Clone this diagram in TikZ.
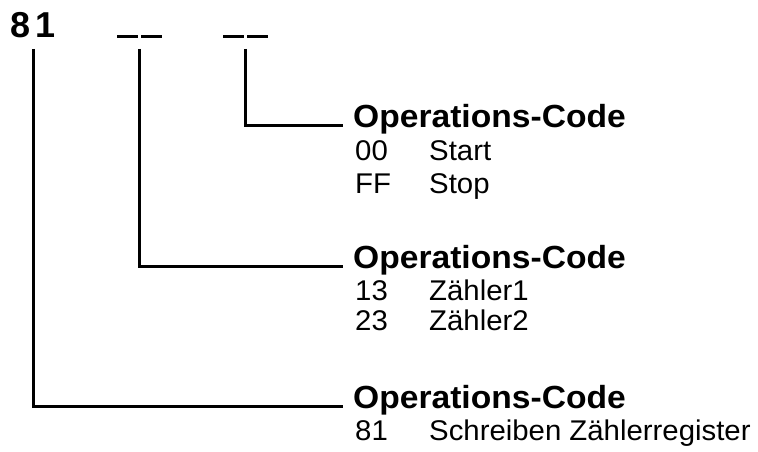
\documentclass[tikz,border=0pt]{standalone}
\usepackage{fontspec}
\usetikzlibrary{calc}
\setmainfont{Liberation Sans}
\newfontfamily\hdfont[FakeStretch=1.05]{Liberation Sans}
\newfontfamily\enfont[FakeStretch=1.03]{Liberation Sans}
\begin{document}
\begin{tikzpicture}[x=1pt,y=-1pt,
  topnum/.style={font=\fontsize{36}{40}\selectfont\bfseries, inner sep=0pt, text depth=0pt, outer ysep=11pt, anchor=base},
  topbar/.style={inner sep=0pt, text depth=0pt, outer ysep=11pt, anchor=base},
  header/.style={font=\hdfont\fontsize{32}{34}\selectfont\bfseries, inner sep=0pt, anchor=base west},
  entry/.style={font=\enfont\fontsize{28.5}{30}\selectfont, inner sep=0pt, anchor=base west},
  conn/.style={line width=2.5pt, line cap=butt},
]
\useasboundingbox (0,0) rectangle (758,452);
% top row
\node[topnum] (n81) at (33.5,38) {8\kern5pt1};
\node[topbar] (u1) at (139.5,38) {\rule{21pt}{3.5pt}\kern3pt\rule{21pt}{3.5pt}};
\node[topbar] (u2) at (245.5,38) {\rule{21pt}{3.5pt}\kern3pt\rule{21pt}{3.5pt}};
% headers
\node[header] (h1) at (353,127) {Operations-Code};
\node[header] (h2) at (353,268) {Operations-Code};
\node[header] (h3) at (353,408) {Operations-Code};
% entries
\node[entry] (c1a) at (355,160) {00};
\node[entry] (d1a) at (429,160) {Start};
\node[entry] (c1b) at (355,193) {FF};
\node[entry] (d1b) at (429,193) {Stop};
\node[entry] (c2a) at (355,300) {13};
\node[entry] (d2a) at (429,300) {Zähler1};
\node[entry] (c2b) at (355,330) {23};
\node[entry] (d2b) at (429,330) {Zähler2};
\node[entry] (c3a) at (355,440) {81};
\node[entry] (d3a) at (429,440) {Schreiben Zählerregister};
% line ends
\coordinate (e1) at ($(h1.base west)+(-10,-1.5)$);
\coordinate (e2) at ($(h2.base west)+(-10,-1.5)$);
\coordinate (e3) at ($(h3.base west)+(-10,-1.5)$);
\draw[conn] (u2.south) |- (e1);
\draw[conn] (u1.south) |- (e2);
\draw[conn] (n81.south) |- (e3);
\end{tikzpicture}
\end{document}
